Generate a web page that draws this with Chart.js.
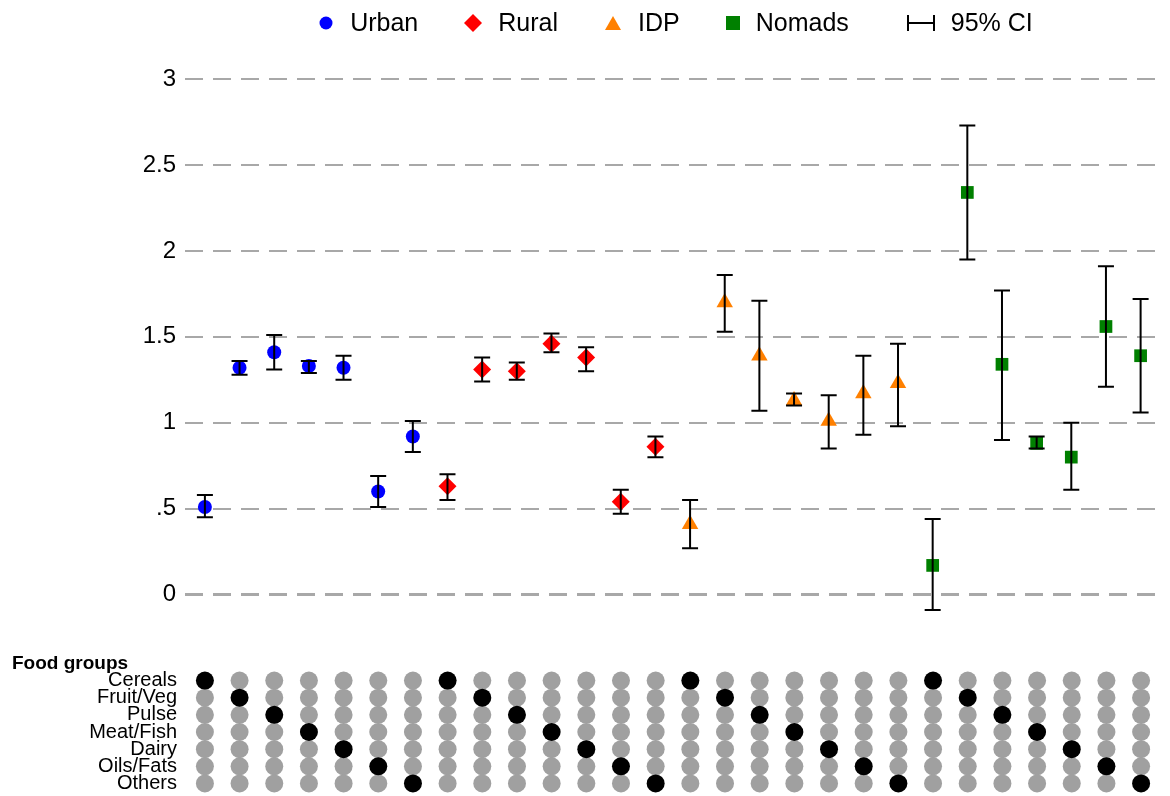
<!DOCTYPE html>
<html>
<head>
<meta charset="utf-8">
<script src="https://cdn.jsdelivr.net/npm/chart.js@4.4.1/dist/chart.umd.min.js"></script>
<style>
  body { margin: 0; background: #fff; font-family: "Liberation Sans", Arial, sans-serif; overflow: hidden; }
  #wrap { position: relative; width: 1170px; height: 796px; overflow: hidden; }
  #legend { position: absolute; left: 185px; width: 981px; top: 0; height: 45px;
            display: flex; justify-content: center; align-items: center; font-size: 25px; color: #000; }
  .item { display: flex; align-items: center; margin: 0 23px; }
  .item svg { margin-right: 16px; }
  #top { position: absolute; left: 0; top: 0; }
  #bottom { position: absolute; left: 0; top: 640px; }
</style>
</head>
<body>
<div id="wrap">
  <canvas id="top" width="1170" height="661"></canvas>
  <canvas id="bottom" width="1170" height="172"></canvas>
  <div id="legend"></div>
</div>
<script>
const groups = ['Urban', 'Rural', 'IDP', 'Nomads'];
const foodGroups = ['Cereals', 'Fruit/Veg', 'Pulse', 'Meat/Fish', 'Dairy', 'Oils/Fats', 'Others'];

// mean ratio and 95% CI, one value per food group
const urbanMean = [0.51, 1.32, 1.41, 1.33, 1.32, 0.60, 0.92];
const urbanLow  = [0.45, 1.28, 1.31, 1.29, 1.25, 0.51, 0.83];
const urbanHigh = [0.58, 1.36, 1.51, 1.36, 1.39, 0.69, 1.01];

const ruralMean = [0.63, 1.31, 1.30, 1.46, 1.38, 0.54, 0.86];
const ruralLow  = [0.55, 1.24, 1.25, 1.41, 1.30, 0.47, 0.80];
const ruralHigh = [0.70, 1.38, 1.35, 1.52, 1.44, 0.61, 0.92];

const idpMean = [0.41, 1.70, 1.39, 1.13, 1.01, 1.17, 1.23];
const idpLow  = [0.27, 1.53, 1.07, 1.10, 0.85, 0.93, 0.98];
const idpHigh = [0.55, 1.86, 1.71, 1.17, 1.16, 1.39, 1.46];

const nomadMean = [0.17, 2.34, 1.34, 0.88, 0.80, 1.56, 1.39];
const nomadLow  = [-0.09, 1.95, 0.90, 0.85, 0.61, 1.21, 1.06];
const nomadHigh = [0.44, 2.73, 1.77, 0.92, 1.00, 1.91, 1.72];

const yTicks = [0, 0.5, 1, 1.5, 2, 2.5, 3];
const yTickLabels = ['0', '.5', '1', '1.5', '2', '2.5', '3'];

const means = [urbanMean, ruralMean, idpMean, nomadMean];
const lows = [urbanLow, ruralLow, idpLow, nomadLow];
const highs = [urbanHigh, ruralHigh, idpHigh, nomadHigh];
const colors = ['#0000ff', '#ff0000', '#ff8000', '#008000'];
const styles = ['circle', 'rectRot', 'triangle', 'rect'];
const radii = [7, 9, 9.5, 9];

const FONT = '"Liberation Sans", Arial, sans-serif';
const xMin = 0.426, xMax = 28.574;

// legend (html)
const legendShapes = [
  '<svg width="16" height="16"><circle cx="8" cy="8" r="6.5" fill="#0000ff"/></svg>',
  '<svg width="18" height="18"><polygon points="9,0 18,9 9,18 0,9" fill="#ff0000"/></svg>',
  '<svg width="18" height="16"><polygon points="9,1 17,15 1,15" fill="#ff8000"/></svg>',
  '<svg width="14" height="14"><rect x="0" y="0" width="14" height="14" fill="#008000"/></svg>'
];
let legendHtml = groups.map((g, i) => `<div class="item">${legendShapes[i]}<span>${g}</span></div>`).join('');
legendHtml += '<div class="item" style="margin-left:35px"><svg width="28" height="18"><path d="M1 1V17M1 9H27M27 1V17" stroke="#000" stroke-width="2" fill="none"/></svg><span>95% CI</span></div>';
document.getElementById('legend').innerHTML = legendHtml;

const errorBars = {
  id: 'errorBars',
  afterDatasetsDraw(chart) {
    const ctx = chart.ctx;
    const y = chart.scales.y;
    ctx.save();
    ctx.strokeStyle = '#000';
    ctx.lineWidth = 2;
    chart.data.datasets.forEach((ds, di) => {
      chart.getDatasetMeta(di).data.forEach((pt, i) => {
        const top = y.getPixelForValue(ds.data[i].hi);
        const bot = y.getPixelForValue(ds.data[i].lo);
        ctx.beginPath();
        ctx.moveTo(pt.x, top); ctx.lineTo(pt.x, bot);
        ctx.moveTo(pt.x - 8, top); ctx.lineTo(pt.x + 8, top);
        ctx.moveTo(pt.x - 8, bot); ctx.lineTo(pt.x + 8, bot);
        ctx.stroke();
      });
    });
    ctx.restore();
  }
};

const topChart = new Chart(document.getElementById('top'), {
  type: 'scatter',
  data: {
    datasets: groups.map((g, gi) => ({
      label: g,
      data: means[gi].map((v, fi) => ({ x: gi * 7 + fi + 1, y: v, lo: lows[gi][fi], hi: highs[gi][fi] })),
      pointStyle: styles[gi],
      pointRadius: radii[gi],
      pointHoverRadius: radii[gi],
      backgroundColor: colors[gi],
      borderColor: colors[gi],
      borderWidth: 0,
      clip: false
    }))
  },
  options: {
    responsive: false,
    animation: false,
    layout: { padding: { top: 79, right: 4, bottom: 0, left: 0 } },
    plugins: { legend: { display: false }, tooltip: { enabled: false } },
    scales: {
      x: { type: 'linear', display: false, min: xMin, max: xMax },
      y: {
        min: -0.25, max: 3,
        afterBuildTicks: scale => { scale.ticks = yTicks.map(v => ({ value: v })); },
        afterFit: scale => { scale.width = 185; },
        ticks: {
          color: '#000', padding: 9,
          font: { family: FONT, size: 24 },
          callback: (v) => yTickLabels[yTicks.indexOf(v)]
        },
        grid: {
          color: '#a8a8a8',
          lineWidth: c => (c.tick && c.tick.value === 0 ? 3 : 2),
          drawTicks: false
        },
        border: { display: false, dash: [18, 10] }
      }
    }
  },
  plugins: [errorBars]
});

// indicator matrix below the plot
const blackDots = [];
const grayDots = [];
groups.forEach((g, gi) => {
  foodGroups.forEach((f, fi) => {
    const x = gi * 7 + fi + 1;
    foodGroups.forEach(row => {
      (row === f ? blackDots : grayDots).push({ x: x, y: row });
    });
  });
});

const matrixTitle = {
  id: 'matrixTitle',
  afterDraw(chart) {
    const ctx = chart.ctx;
    ctx.save();
    ctx.font = 'bold 19px ' + FONT;
    ctx.fillStyle = '#000';
    ctx.textBaseline = 'middle';
    ctx.textAlign = 'left';
    ctx.fillText('Food groups', 12, 24);
    ctx.restore();
  }
};

const bottomChart = new Chart(document.getElementById('bottom'), {
  type: 'scatter',
  data: {
    datasets: [
      { data: blackDots, backgroundColor: '#000', borderWidth: 0, pointRadius: 9, clip: false },
      { data: grayDots, backgroundColor: '#a0a0a0', borderWidth: 0, pointRadius: 9, clip: false }
    ]
  },
  options: {
    responsive: false,
    animation: false,
    layout: { padding: { top: 32, right: 4, bottom: 0, left: 0 } },
    plugins: { legend: { display: false }, tooltip: { enabled: false } },
    scales: {
      x: { type: 'linear', display: false, min: xMin, max: xMax },
      y: {
        type: 'category',
        labels: foodGroups,
        offset: true,
        afterFit: scale => { scale.width = 185; },
        ticks: { color: '#000', padding: 8, autoSkip: false, font: { family: FONT, size: 20 } },
        grid: { display: false, drawTicks: false },
        border: { display: false }
      }
    }
  },
  plugins: [matrixTitle]
});
</script>
</body>
</html>
